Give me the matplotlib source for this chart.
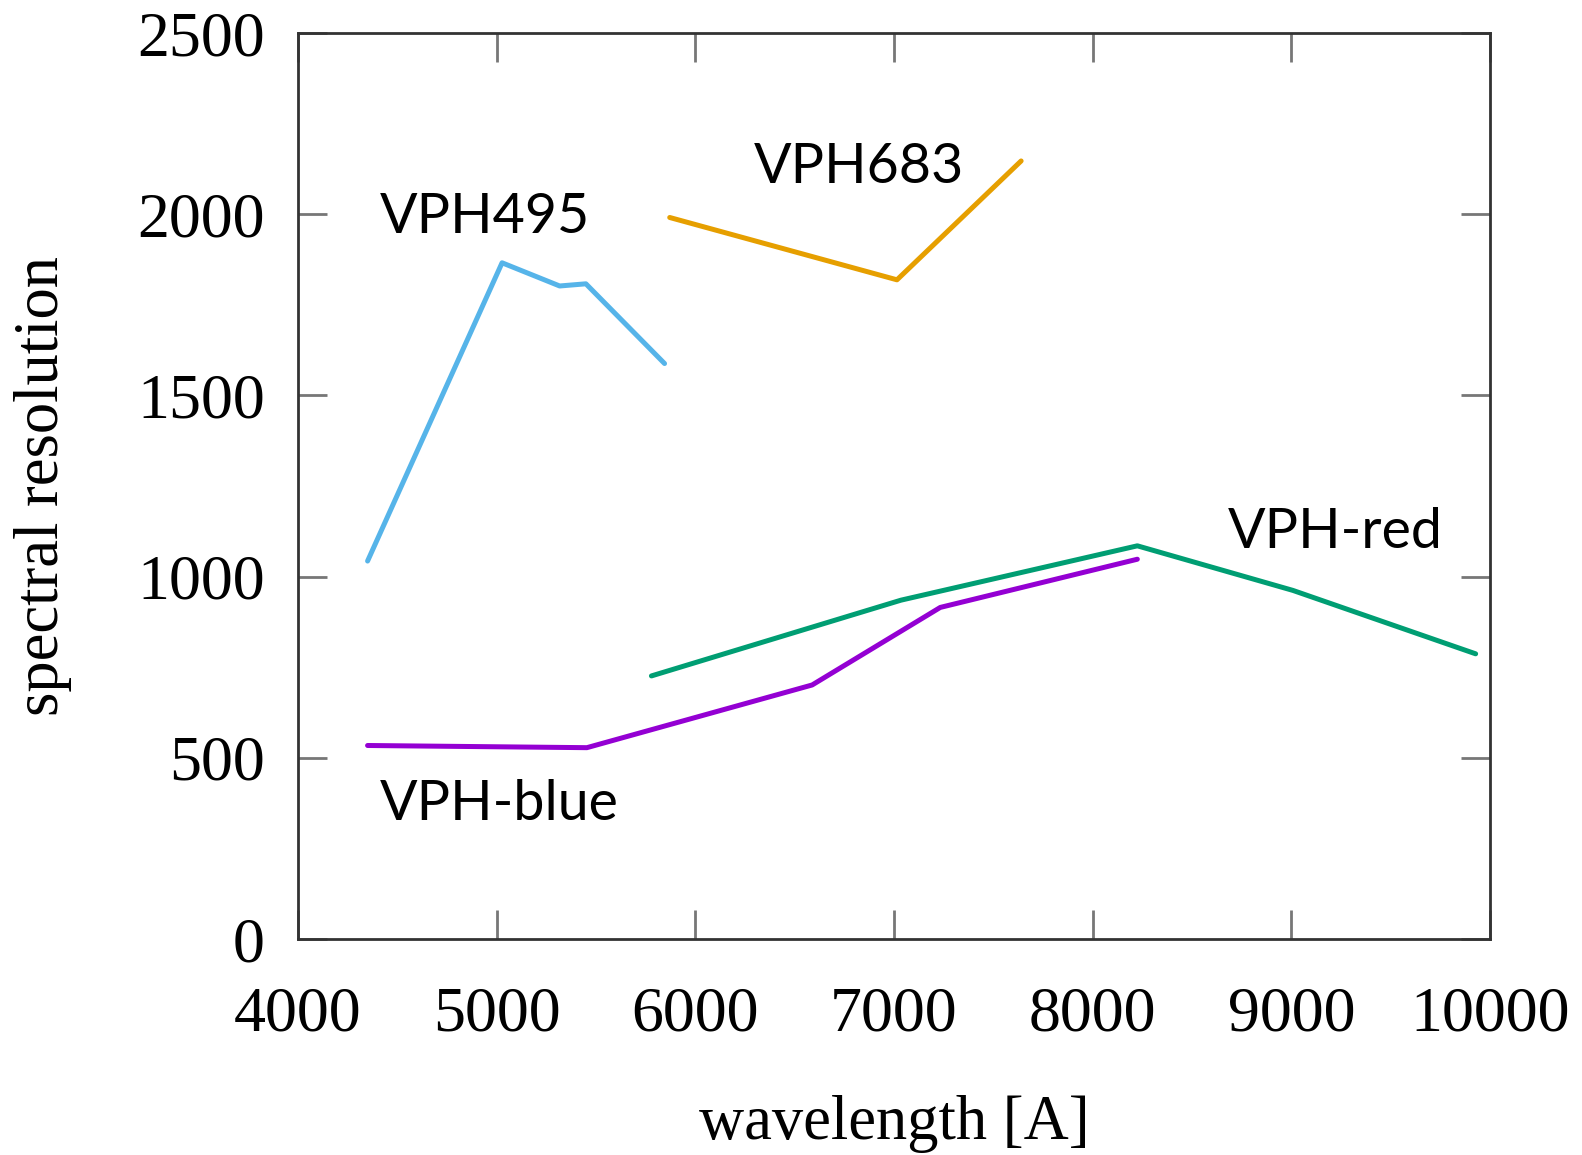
import matplotlib
matplotlib.use("Agg")
import matplotlib.pyplot as plt

# spectral resolution vs wavelength for each grating
vph495_wl = [4350, 5027, 5317, 5449, 5845]
vph495_r = [1043, 1866, 1802, 1808, 1588]

vph683_wl = [5871, 7015, 7640]
vph683_r = [1991, 1819, 2147]

vphred_wl = [5779, 7035, 8225, 9008, 9928]
vphred_r = [726, 935, 1085, 962, 787]

vphblue_wl = [4350, 5454, 6588, 7233, 8225]
vphblue_r = [534, 528, 701, 915, 1048]

labels = ["VPH495", "VPH683", "VPH-red", "VPH-blue"]
label_x = [4412, 6293, 8682, 4412]
label_y = [1949, 2086, 1079, 328]

xticks = [4000, 5000, 6000, 7000, 8000, 9000, 10000]
yticks = [0, 500, 1000, 1500, 2000, 2500]

fig = plt.figure(figsize=(15.82, 11.55), dpi=100)
ax = fig.add_axes([0.1884, 0.187, 0.7534, 0.7844])

lw = 3.6
ax.plot(vph495_wl, vph495_r, color="#56B4E9", lw=lw, solid_capstyle="round")
ax.plot(vph683_wl, vph683_r, color="#E69F00", lw=lw, solid_capstyle="round")
ax.plot(vphred_wl, vphred_r, color="#009E73", lw=lw, solid_capstyle="round")
ax.plot(vphblue_wl, vphblue_r, color="#9400D3", lw=lw, solid_capstyle="round")

for txt, x, y in zip(labels, label_x, label_y):
    ax.text(x, y, txt, fontsize=40, family="Lato", ha="left", va="baseline")

ax.set_xlim(4000, 10000)
ax.set_ylim(0, 2500)
ax.set_xticks(xticks)
ax.set_yticks(yticks)

serif = "Liberation Serif"
ax.set_xticklabels([str(t) for t in xticks], fontsize=46, family=serif)
ax.set_yticklabels([str(t) for t in yticks], fontsize=46, family=serif)
ax.tick_params(axis="both", direction="in", length=21, width=2, color="#777777",
               top=True, right=True)
ax.tick_params(axis="x", pad=34)
ax.tick_params(axis="y", pad=24)

for s in ax.spines.values():
    s.set_color("#333333")
    s.set_linewidth(2)

ax.set_xlabel("wavelength [A]", fontsize=45, family=serif)
ax.set_ylabel("spectral resolution", fontsize=45, family=serif)
ax.xaxis.set_label_coords(0.5, -0.172)
ax.yaxis.set_label_coords(-0.19, 0.5)

fig.savefig("out.png", dpi=100)
